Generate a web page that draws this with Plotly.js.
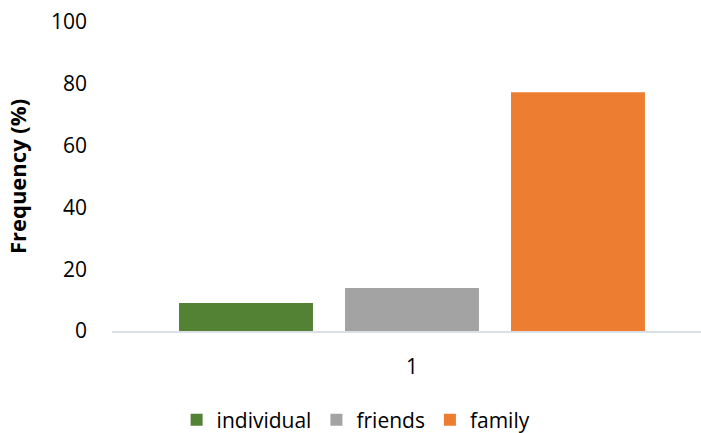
<!DOCTYPE html>
<html>
<head>
<meta charset="utf-8">
<script src="https://cdn.plot.ly/plotly-3.0.1.min.js"></script>
<style>html,body{margin:0;padding:0;background:#fff;}#chart{width:701px;height:433px;}</style>
</head>
<body>
<div id="chart"></div>
<script>
var categories = ["1"];
var seriesNames = ["individual", "friends", "family"];
var individualValues = [9.1];
var friendsValues = [13.9];
var familyValues = [77.3];
var seriesColors = ["#548235", "#A3A3A3", "#ED7D31"];
var yTickValues = [0, 20, 40, 60, 80, 100];

var seriesValues = [individualValues, friendsValues, familyValues];
var traces = seriesNames.map(function (name, i) {
  return {
    type: "bar",
    name: name,
    x: [0],
    y: seriesValues[i],
    marker: { color: seriesColors[i], line: { width: 0 } },
    hoverinfo: "y+name"
  };
});

var font = "Open Sans, Liberation Sans, sans-serif";
var layout = {
  width: 701,
  height: 433,
  margin: { l: 112, r: 0, t: 22, b: 102 },
  paper_bgcolor: "#ffffff",
  plot_bgcolor: "#ffffff",
  barmode: "group",
  bargap: 0.17,
  bargroupgap: 0.193,
  showlegend: true,
  font: { family: font, size: 21, color: "#000000" },
  xaxis: {
    range: [-0.5, 0.4817],
    tickvals: [0],
    ticktext: categories,
    showgrid: false,
    zeroline: false,
    showline: true,
    linecolor: "#DCE0E5",
    linewidth: 1.5,
    ticks: "",
    ticklabelstandoff: 16,
    tickfont: { family: font, size: 21, color: "#000" },
    fixedrange: true
  },
  yaxis: {
    range: [0, 100],
    tickvals: yTickValues,
    showgrid: false,
    zeroline: false,
    showline: false,
    ticks: "",
    ticklabelstandoff: 24,
    tickfont: { family: font, size: 21, color: "#000" },
    title: { text: "Frequency (%)", font: { family: font, size: 22, color: "#000", weight: "bold" }, standoff: 18 },
    fixedrange: true
  },
  legend: {
    orientation: "h",
    xref: "container",
    yref: "container",
    x: 0.508,
    xanchor: "center",
    y: 0.03,
    yanchor: "middle",
    font: { family: font, size: 21, color: "#000" },
    itemwidth: 30,
    traceorder: "normal"
  }
};

Plotly.newPlot("chart", traces, layout, { displayModeBar: false, staticPlot: true });
</script>
</body>
</html>
